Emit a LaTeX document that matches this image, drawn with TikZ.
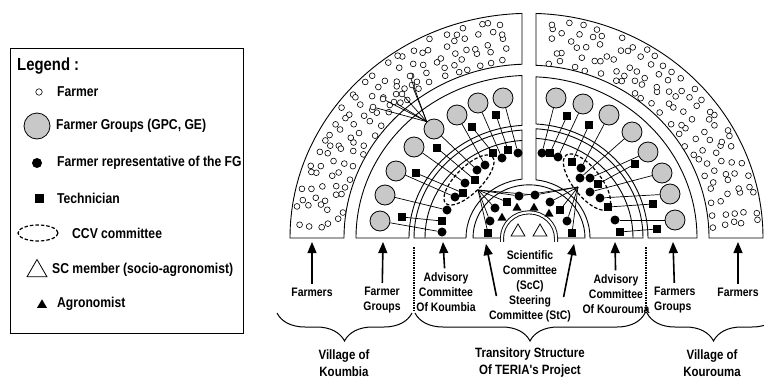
\documentclass[tikz,border=0pt]{standalone}
\usepackage{fontspec}
\setmainfont{Liberation Sans}
\newfontfamily\condfont[FakeStretch=0.85]{Liberation Sans}
\usetikzlibrary{arrows, shapes.geometric, decorations.pathreplacing}

\definecolor{groupgray}{RGB}{200,200,200}
\newcommand{\lblfont}{\condfont\fontsize{12.3}{15}\selectfont\bfseries}
\newcommand{\legfont}{\condfont\fontsize{14.3}{16}\selectfont\bfseries}
\newcommand{\brcfont}{\condfont\fontsize{13.5}{17}\selectfont\bfseries}

% half-ring boxes, drawn inside a scope centred on the base line
\newcommand{\leftbox}[2]{%
  \pgfmathsetmacro\angout{acos(-7/#2)}%
  \pgfmathsetmacro\angin{acos(-7/#1)}%
  \draw[box] (180:#2) arc[start angle=180, end angle=\angout, radius=#2]
    -- (\angin:#1) arc[start angle=\angin, end angle=180, radius=#1] -- cycle;}
\newcommand{\rightbox}[2]{%
  \pgfmathsetmacro\angout{acos(7/#2)}%
  \pgfmathsetmacro\angin{acos(7/#1)}%
  \draw[box] (0:#2) arc[start angle=0, end angle=\angout, radius=#2]
    -- (\angin:#1) arc[start angle=\angin, end angle=0, radius=#1] -- cycle;}
% scattered farmers: first radius, first angle, name prefix
\newcommand{\farmers}[3]{%
  \foreach \row in {0,...,4}{
    \pgfmathsetmacro\rowrad{#1+10*\row}
    \pgfmathtruncatemacro\rowcount{\rowrad*1.43/12.5}
    \foreach \k in {1,...,\rowcount}{
      \pgfmathsetmacro\farmang{#2+(\k-0.5)*82/\rowcount+1.6*rand}
      \pgfmathsetmacro\farmrad{\rowrad+3.5*rand}
      \node[farmer] (#3\row-\k) at (\farmang:\farmrad) {};
    }
  }}

\tikzset{%
  box/.style={draw, line width=0.9pt},
  farmer/.style={circle, draw, fill=white, line width=0.6pt,
    inner sep=0pt, minimum size=5.8pt},
  group/.style={circle, draw, fill=groupgray, line width=0.8pt,
    inner sep=0pt, minimum size=20pt},
  rep/.style={circle, fill, inner sep=0pt, minimum size=9pt},
  tech/.style={rectangle, fill, inner sep=0pt, minimum size=7.5pt},
  agro/.style={regular polygon, regular polygon sides=3, fill,
    inner sep=0pt, minimum size=10.5pt},
  scm/.style={regular polygon, regular polygon sides=3, draw,
    line width=0.8pt, inner sep=0pt, minimum size=16pt},
  ccv/.style={draw, dash pattern=on 3.5pt off 2pt, line width=1.2pt},
  link/.style={draw, line width=0.7pt},
  up/.style={->, >=triangle 45, line width=1.6pt, shorten <=3pt},
  sep/.style={dash pattern=on 1.5pt off 1pt, line width=1.2pt},
  lbl/.style={font=\lblfont, align=center, inner sep=1pt},
  legtext/.style={font=\legfont, anchor=west, inner sep=0pt},
  brc/.style={decorate, decoration={brace, mirror, amplitude=28pt},
    line width=1pt},
  brclbl/.style={font=\brcfont, align=center}
}

\begin{document}
\begin{tikzpicture}[x=1pt, y=-1pt]
\useasboundingbox (0,0) rectangle (764,378);

% legend
\draw[box] (10,48) rectangle (243,333);
\node[font=\condfont\fontsize{17.5}{19}\selectfont\bfseries, anchor=west, inner sep=0pt]
  (legTitle) at (17,66) {Legend :};
\node[farmer, minimum size=6.5pt] (legFarmer) at (39,92) {};
\node[legtext] (legFarmerTxt) at (57,92) {Farmer};
\node[group, minimum size=26pt] (legGroup) at (37,126) {};
\node[legtext] (legGroupTxt) at (56,126) {Farmer Groups (GPC, GE)};
\node[rep, minimum size=10pt] (legRep) at (37,163) {};
\node[legtext] (legRepTxt) at (57,163) {Farmer representative of the FG};
\node[tech, minimum size=9pt] (legTech) at (39,198) {};
\node[legtext] (legTechTxt) at (57,198) {Technician};
\draw[ccv] (38,233) ellipse [x radius=20, y radius=8];
\node[legtext] (legCcvTxt) at (72,233) {CCV committee};
\node[scm, minimum size=23pt] (legScm) at (37,271) {};
\node[legtext] (legScmTxt) at (52,270) {SC member (socio-agronomist)};
\node[agro, minimum size=11.5pt] (legAgro) at (42,305) {};
\node[legtext] (legAgroTxt) at (57,304) {Agronomist};

% Koumbia side
\begin{scope}[shift={(529,238)}, yscale=-0.94]
  \leftbox{185}{239}
  \leftbox{120}{173}
  \leftbox{63}{115}
  \pgfmathsetmacro\angin{acos(-7/104)}
  \draw[box] (180:104) arc[start angle=180, end angle=\angin, radius=104];
  \pgfmathsetseed{11}
  \farmers{191}{95}{fL}
\end{scope}

% Kourouma side
\begin{scope}[shift={(529,238)}, yscale=-0.96]
  \rightbox{180}{234}
  \rightbox{119}{168}
  \rightbox{61}{114}
  \pgfmathsetmacro\angin{acos(7/104)}
  \draw[box] (0:104) arc[start angle=0, end angle=\angin, radius=104];
  \pgfmathsetseed{23}
  \farmers{186}{3}{fR}
\end{scope}

% transitory structure and scientific committee
\begin{scope}[shift={(529,238)}, yscale=-0.95]
  \draw[box] (-27,0) -- (180:56) arc[start angle=180, end angle=0, radius=56] -- (27,0);
  \draw[box, double, double distance=2.2pt] (-27,-4) -- (180:27)
    arc[start angle=180, end angle=0, radius=27] -- (27,-4);
\end{scope}

% farmers linked to one group
\foreach \name/\x/\y in {lf1/410/76, lf2/412/85, lf3/402/94, lf4/394/102,
    lf5/383/99, lf6/373/107}
  \node[farmer] (\name) at (\x,\y) {};

% farmer groups
\foreach \name/\x/\y in {gL1/380/221, gL2/385/195, gL3/396/171, gL4/414/147,
    gL5/434/129, gL6/457/115, gL7/478/103, gL8/503/98,
    gR1/675/220, gR2/670/194, gR3/662/173, gR4/648/152,
    gR5/632/132, gR6/609/115, gR7/583/104, gR8/556/98}
  \node[group] (\name) at (\x,\y) {};

% technicians
\foreach \name/\x/\y in {tL1/402/217, tL2/416/173, tL3/437/148, tL4/472/127,
    tL5/496/115, tR1/657/229, tR2/653/204, tR3/635/164, tR4/589/125,
    tR5/567/116, aL1/442/221, aL2/463/193, aL3/475/180, aL4/493/153,
    aL5/508/150, aR1/620/232, aR2/608/207, aR3/598/184, aR4/572/162,
    aR5/550/153, trS1/488/233, trS2/507/202, trS3/560/210, trS4/572/233}
  \node[tech] (\name) at (\x,\y) {};

% farmer representatives
\foreach \name/\x/\y in {rL1/442/232, rL2/447/210, rL3/455/197, rL4/465/183,
    rL5/477/170, rL6/485/165, rL7/502/158, rL8/518/153,
    rR1/615/220, rR2/600/198, rR3/590/192, rR4/590/178,
    rR5/580/178, rR6/581/168, rR7/558/157, rR8/542/153,
    trD1/490/221, trD2/495/208, trD3/519/196, trD4/535/195,
    trD5/550/202, trD6/567/221}
  \node[rep] (\name) at (\x,\y) {};

% agronomists and SC members
\foreach \name/\x/\y in {trT1/502/218, trT2/517/208, trT3/534/208, trT4/549/214}
  \node[agro] (\name) at (\x,\y) {};
\node[scm] (sc1) at (518,232) {};
\node[scm] (sc2) at (540,232) {};

% CCV committees
\draw[ccv, rotate around={45:(469,180)}] (469,180) ellipse [x radius=33, y radius=13];
\draw[ccv, rotate around={-52:(587,182)}] (587,182) ellipse [x radius=34, y radius=14];
\coordinate (hubL) at (478,190);
\coordinate (hubR) at (578,187);

% links
\foreach \a/\b in {gL1/rL1, gL2/rL2, gL3/rL3, gL4/rL4, gL5/rL5, gL6/rL6,
    gL7/rL7, gL8/rL8, gR1/rR1, gR2/rR2, gR3/rR3, gR4/rR4, gR5/rR5,
    gR6/rR6, gR7/rR7, gR8/rR8, tL1/aL1, tL2/aL2, tL3/aL3, tL4/aL4,
    tL5/aL5, tR1/aR1, tR2/aR2, tR3/aR3, tR4/aR4, tR5/aR5}
  \draw[link] (\a) -- (\b);
\foreach \b in {lf1, lf2, lf3, lf4, lf5, lf6}
  \draw[link] (gL5.north west) -- (\b);
\foreach \b in {trS1, trD1, trD2, trS2, trD3, trD4}
  \draw[link] (hubL) -- (\b);
\foreach \b in {trS4, trD6, trS3, trD5, trD4, trD3}
  \draw[link] (hubR) -- (\b);

% labels and arrows
\node[lbl] (lblFarmL) at (312,292) {Farmers};
\node[lbl] (lblGroupL) at (382,300) {Farmer\\Groups};
\node[lbl] (lblAdvL) at (446,292) {Advisory\\Committee\\Of Koumbia};
\node[lbl] (lblTrans) at (530,286) {Scientific\\Committee\\(ScC)\\Steering\\Committee (StC)};
\node[lbl] (lblAdvR) at (616,294) {Advisory\\Committee\\Of Kourouma};
\node[lbl, align=left, anchor=west] (lblGroupR) at (653,300) {Farmers\\Groups};
\node[lbl] (lblFarmR) at (738,292) {Farmers};

\coordinate (tipFarmL) at (312,242);
\coordinate (tipGroupL) at (383,242);
\coordinate (tipAdvL) at (443,242);
\coordinate (tailStL) at (497,299);
\coordinate (tipStL) at (486,244);
\coordinate (tailStR) at (563,300);
\coordinate (tipStR) at (574,244);
\coordinate (tipAdvR) at (615,242);
\coordinate (tipGroupR) at (673,242);
\coordinate (tipFarmR) at (738,242);

\draw[up] (lblFarmL) -- (tipFarmL);
\draw[up] (lblGroupL) -- (tipGroupL);
\draw[up] (lblAdvL) -- (tipAdvL);
\draw[up] (tailStL) -- (tipStL);
\draw[up] (tailStR) -- (tipStR);
\draw[up] (lblAdvR) -- (tipAdvR);
\draw[up] (lblGroupR) -- (tipGroupR);
\draw[up] (lblFarmR) -- (tipFarmR);

\draw[sep] (414,247) -- (414,312);
\draw[sep] (646,247) -- (646,313);

% braces
\draw[brc] (277,313) -- (412,313);
\draw[brc] (415,313) -- (645,313);
\draw[brc] (647,313) -- (780,313);
\node[brclbl] (lblVilL) at (344,363) {Village of\\Koumbia};
\node[brclbl] (lblTeria) at (530,363) {Transitory Structure\\Of TERIA's Project};
\node[brclbl] (lblVilR) at (712,363) {Village of\\Kourouma};

\end{tikzpicture}
\end{document}
